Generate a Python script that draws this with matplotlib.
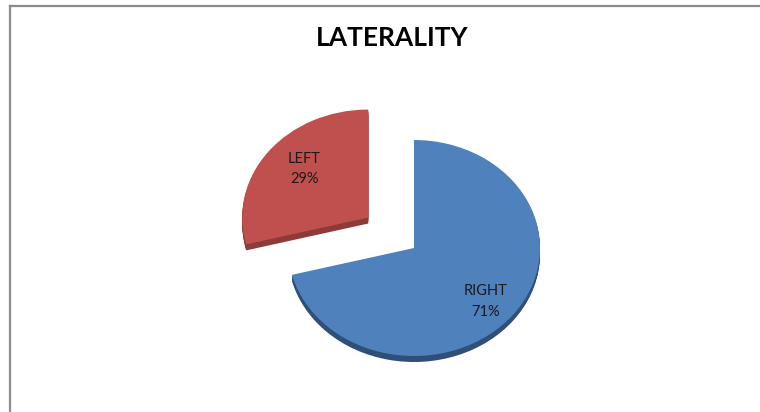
import matplotlib
matplotlib.use("Agg")
import matplotlib.pyplot as plt
from matplotlib.lines import Line2D
import numpy as np

categories = ["RIGHT", "LEFT"]
values = [71, 29]
labels = ["RIGHT\n71%", "LEFT\n29%"]
top_colors = ["#4F81BD", "#C0504D"]
side_colors = ["#2E4F78", "#8E3A38"]
explode_frac = [0.0, 0.46]
title = "LATERALITY"

W, H = 760, 412
fig = plt.figure(figsize=(W / 100, H / 100), dpi=100)
ax = fig.add_axes([0, 0, 1, 1])

R = 126.0
s = 108.0 / R          # vertical pixels per data unit (perspective squash)
cx_px, cy_px = 414, 248
cy_from_bottom = H - cy_px
explode = [e * R for e in explode_frac]

thick = 6
for k in range(thick, 0, -1):
    ax.pie(values, explode=explode, startangle=90, counterclock=False,
           radius=R, center=(0, -k / s), colors=side_colors,
           wedgeprops=dict(linewidth=0), frame=True)

wedges, texts = ax.pie(values, explode=explode, startangle=90, counterclock=False,
                       radius=R, center=(0, 0), colors=top_colors,
                       labels=labels, labeldistance=0.72,
                       wedgeprops=dict(linewidth=0), frame=True,
                       textprops=dict(fontsize=10.5, family=["Lato", "DejaVu Sans"],
                                      color="#1A1A1A", linespacing=1.6))
# small nudges to match label placement (in pixels -> data units)
nudges_px = [(0, -6), (8, 1)]
for t, (dx, dy) in zip(texts, nudges_px):
    x, y = t.get_position()
    t.set_position((x + dx, y + dy / s))
    t.set_ha("center")
    t.set_va("center")

ax.set_aspect("auto")
ax.set_xlim(-cx_px, W - cx_px)
ax.set_ylim(-cy_from_bottom / s, (H - cy_from_bottom) / s)
ax.axis("off")

fig.text(392 / W, 1 - 38 / H, title, ha="center", va="center",
         fontsize=19, fontweight="bold", family=["Lato", "DejaVu Sans"], color="#000000")

# chart frame (left and top edges visible)
fig.add_artist(Line2D([10 / W, 10 / W], [0, 1 - 6 / H], transform=fig.transFigure,
                      color="#8C8C8C", linewidth=1.6))
fig.add_artist(Line2D([10 / W, 1], [1 - 6 / H, 1 - 6 / H], transform=fig.transFigure,
                      color="#8C8C8C", linewidth=1.6))

fig.savefig("out.png", dpi=100, facecolor="white")
